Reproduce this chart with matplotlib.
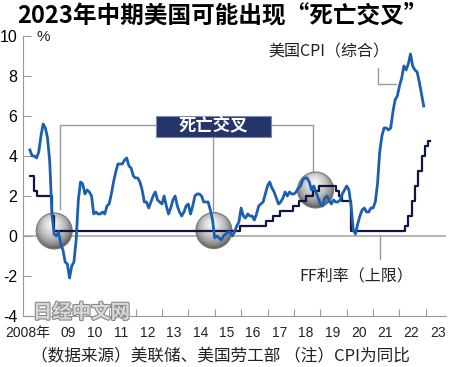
import numpy as np
import matplotlib
matplotlib.use("Agg")
import matplotlib.pyplot as plt
from matplotlib.patches import Ellipse, Rectangle
import matplotlib.patheffects as pe

plt.rcParams['font.family'] = ['Noto Sans CJK SC', 'DejaVu Sans']

# US CPI, year-on-year %, monthly Jan 2008 - Dec 2022
cpi_2008 = [4.3, 4.0, 4.0, 3.9, 4.2, 5.0, 5.6, 5.4, 4.9, 3.7, 1.1, 0.1]
cpi_2009 = [0.0, 0.2, -0.4, -0.7, -1.3, -1.4, -2.1, -1.5, -1.3, -0.2, 1.8, 2.7]
cpi_2010 = [2.6, 2.1, 2.3, 2.2, 2.0, 1.1, 1.2, 1.1, 1.1, 1.2, 1.1, 1.5]
cpi_2011 = [1.6, 2.1, 2.7, 3.2, 3.6, 3.6, 3.6, 3.8, 3.9, 3.5, 3.4, 3.0]
cpi_2012 = [2.9, 2.9, 2.7, 2.3, 1.7, 1.7, 1.4, 1.7, 2.0, 2.2, 1.8, 1.7]
cpi_2013 = [1.6, 2.0, 1.5, 1.1, 1.4, 1.8, 2.0, 1.5, 1.2, 1.0, 1.2, 1.5]
cpi_2014 = [1.6, 1.1, 1.5, 2.0, 2.1, 2.1, 2.0, 1.7, 1.7, 1.7, 1.3, 0.8]
cpi_2015 = [-0.1, 0.0, -0.1, -0.2, 0.0, 0.1, 0.2, 0.2, 0.0, 0.2, 0.5, 0.7]
cpi_2016 = [1.4, 1.0, 0.9, 1.1, 1.0, 1.0, 0.8, 1.1, 1.5, 1.6, 1.7, 2.1]
cpi_2017 = [2.5, 2.7, 2.4, 2.2, 1.9, 1.6, 1.7, 1.9, 2.2, 2.0, 2.2, 2.1]
cpi_2018 = [2.1, 2.2, 2.4, 2.5, 2.8, 2.9, 2.9, 2.7, 2.3, 2.5, 2.2, 1.9]
cpi_2019 = [1.6, 1.5, 1.9, 2.0, 1.8, 1.6, 1.8, 1.7, 1.7, 1.8, 2.1, 2.3]
cpi_2020 = [2.5, 2.3, 1.5, 0.3, 0.1, 0.6, 1.0, 1.3, 1.4, 1.2, 1.2, 1.4]
cpi_2021 = [1.4, 1.7, 2.6, 4.2, 5.0, 5.4, 5.4, 5.3, 5.4, 6.2, 6.8, 7.0]
cpi_2022 = [7.5, 7.9, 8.5, 8.3, 8.6, 9.1, 8.5, 8.3, 8.2, 7.7, 7.1, 6.5]

# FF rate upper bound: dates of change (decimal year) and new level
ff_dates = [2008.0, 2008.17, 2008.25, 2008.83, 2008.92, 2015.96, 2016.96,
            2017.21, 2017.46, 2017.96, 2018.21, 2018.46, 2018.73, 2018.96,
            2019.58, 2019.71, 2019.83, 2020.17, 2022.21, 2022.34, 2022.46,
            2022.57, 2022.72, 2022.84, 2022.96, 2023.09, 2023.15]
ff_levels = [3.0, 2.25, 2.0, 1.0, 0.25, 0.5, 0.75,
             1.0, 1.25, 1.5, 1.75, 2.0, 2.25, 2.5,
             2.25, 2.0, 1.75, 0.25, 0.5, 1.0, 1.75,
             2.5, 3.25, 4.0, 4.5, 4.75, 4.75]

year_labels = ['2008年', '09', '10', '11', '12', '13', '14', '15', '16',
               '17', '18', '19', '20', '21', '22', '23']

# "death cross" points (decimal year, value)
cross_x = [2008.92, 2014.97, 2018.82]
cross_y = [0.25, 0.27, 2.3]

cpi = (cpi_2008 + cpi_2009 + cpi_2010 + cpi_2011 + cpi_2012 + cpi_2013 +
       cpi_2014 + cpi_2015 + cpi_2016 + cpi_2017 + cpi_2018 + cpi_2019 +
       cpi_2020 + cpi_2021 + cpi_2022)
cpi_t = 2008 + np.arange(len(cpi)) / 12

fig = plt.figure(figsize=(4.5, 3.67), dpi=100)
ax = fig.add_axes([0.051, 0.139, 0.940, 0.763])

ax.axhline(0, color='#b0b0b0', lw=1.3, zorder=1)

ax.plot(ff_dates, ff_levels, drawstyle='steps-post', color='#0f1640',
        lw=1.6, zorder=4)
ax.plot(cpi_t, cpi, color='#1c5fb0', lw=2.0, zorder=5)

# shaded balls
yy, xx = np.mgrid[-1:1:80j, -1:1:80j]
r = np.sqrt(xx ** 2 + yy ** 2)
dh = np.sqrt((xx + 0.1) ** 2 + (yy - 0.35) ** 2)
shade = 0.97 - 0.5 * np.clip(dh / 1.3, 0, 1) ** 1.3 - 0.12 * r ** 6
bw, bh = 36 / 26.4, 36 / 20
for cx, cy in zip(cross_x, cross_y):
    ell = Ellipse((cx, cy), bw, bh, facecolor='none', edgecolor='#7a7a7a',
                  lw=0.8, zorder=3)
    ax.add_patch(ell)
    im = ax.imshow(shade, cmap='gray', vmin=0, vmax=1, origin='lower',
                   extent=[cx - bw / 2, cx + bw / 2, cy - bh / 2, cy + bh / 2],
                   aspect='auto', zorder=2.5, interpolation='bilinear')
    im.set_clip_path(ell)

# callout lines and label box
gray = '#9a9a9a'
ax.plot([2012.77, 2009.14, 2009.14], [5.55, 5.55, 1.35], color=gray, lw=1, zorder=1.5)
ax.plot([2017.13, 2018.72, 2018.72], [5.55, 5.55, 3.2], color=gray, lw=1, zorder=1.5)
ax.plot([2014.93, 2014.93], [4.95, 1.15], color=gray, lw=1, zorder=1.5)
ax.add_patch(Rectangle((2012.77, 4.95), 4.36, 1.05, facecolor='#25356a',
                       edgecolor='#7f8bb0', lw=0.8, zorder=6))
ax.text(2014.95, 5.47, '死亡交叉', color='white', fontsize=12.5,
        fontweight='bold', ha='center', va='center', zorder=7)

ax.plot([2021.18, 2021.18, 2021.85], [8.4, 7.62, 7.62], color=gray, lw=1, zorder=1.5)
ax.text(2017.05, 9.2, '美国CPI（综合）', fontsize=11.5, color='#222222',
        ha='left', va='center')
ax.plot([2021.28, 2021.28], [0.0, -1.15], color=gray, lw=1, zorder=1.5)
ax.text(2018.2, -2.05, 'FF利率（上限）', fontsize=11.5, color='#222222',
        ha='left', va='center')

ax.set_xlim(2007.735, 2023.76)
ax.set_ylim(-4, 10)
ax.set_yticks(range(-4, 11, 2))
ax.set_yticklabels([str(v) for v in range(-4, 11, 2)],
                   family=['Liberation Sans', 'DejaVu Sans'], fontsize=11.5)
ax.set_xticks(range(2009, 2024))
ax.set_xticklabels([])
label_pos = [2007.92] + [y + 0.45 for y in range(2009, 2024)]
ax.set_xticks(label_pos, minor=True)
ax.set_xticklabels(year_labels, minor=True, fontsize=10,
                   family=['Liberation Sans', 'Noto Sans CJK SC'], color='#222222')
ax.tick_params(axis='x', which='major', direction='in', length=5, color='#999999')
ax.tick_params(axis='x', which='minor', length=0, pad=7)
ax.tick_params(axis='y', direction='in', length=6, color='#999999', pad=4)
for s in ['top', 'right']:
    ax.spines[s].set_visible(False)
ax.spines['left'].set_color('#999999')
ax.spines['bottom'].set_color('#999999')

fig.text(0.082, 0.899, '%', fontsize=11, va='center', ha='left',
         family=['Liberation Sans', 'DejaVu Sans'], color='#222222')
fig.text(0.494, 0.958, '2023年中期美国可能出现“死亡交叉”', fontsize=17,
         fontweight='bold', ha='center', va='center')
fig.text(0.489, 0.027, '（数据来源）美联储、美国劳工部 （注）CPI为同比',
         fontsize=12, ha='center', va='center', color='#222222')
fig.text(0.073, 0.148, '日经中文网', fontsize=14, fontweight='bold',
         color='#d8d8d8', ha='left', va='center', zorder=10,
         path_effects=[pe.withStroke(linewidth=1.6, foreground='#8a8a8a')])

fig.savefig('out.png', dpi=100)
